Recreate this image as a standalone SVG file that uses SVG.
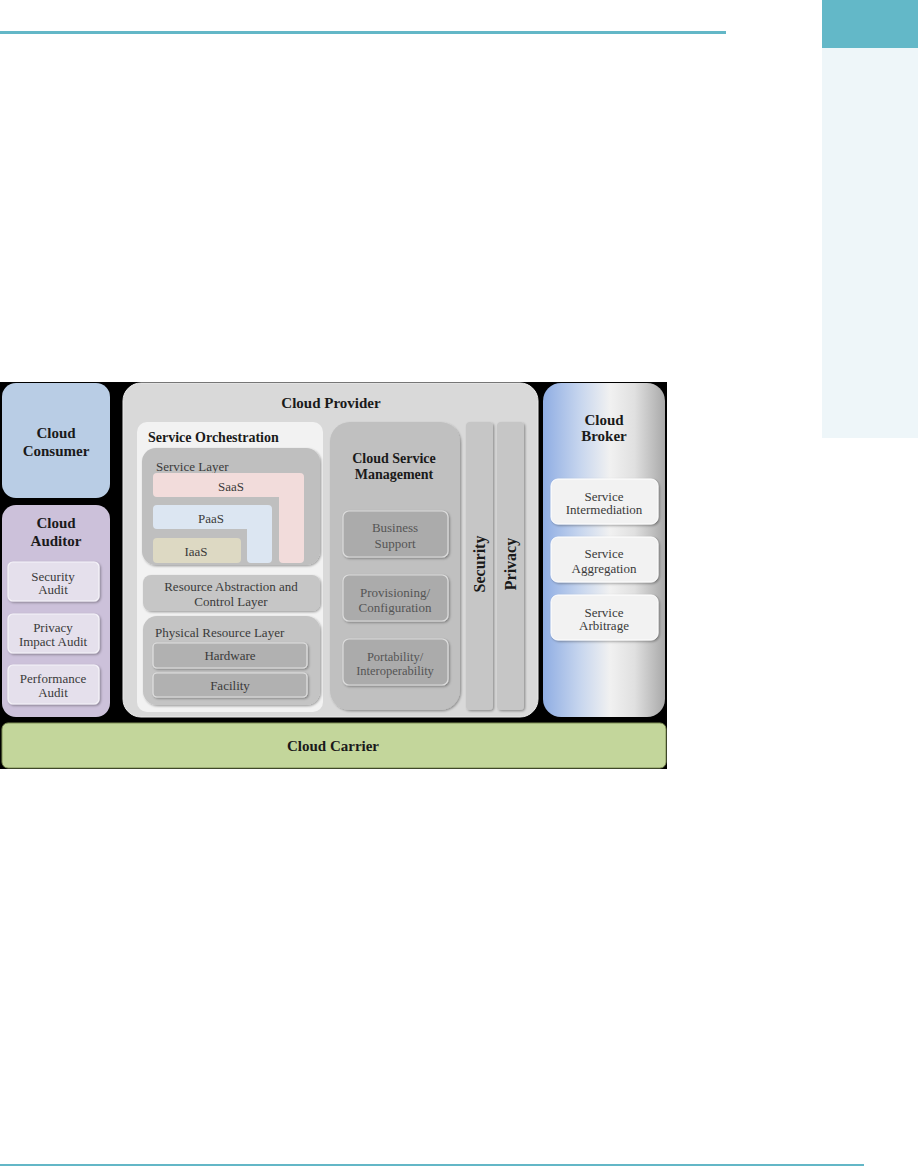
<svg xmlns="http://www.w3.org/2000/svg" width="918" height="1166" viewBox="0 0 918 1166">
<defs>
  <linearGradient id="brokerGrad" x1="0" y1="0" x2="1" y2="0">
    <stop offset="0" stop-color="#8fade3"/>
    <stop offset="0.3" stop-color="#c6d5ee"/>
    <stop offset="0.55" stop-color="#f1f1f1"/>
    <stop offset="0.75" stop-color="#e0e0e0"/>
    <stop offset="1" stop-color="#a9a9a9"/>
  </linearGradient>
  <filter id="sh" x="-10%" y="-10%" width="130%" height="140%">
    <feDropShadow dx="1.2" dy="1.2" stdDeviation="0.8" flood-color="#000" flood-opacity="0.35"/>
  </filter>
  <style>
    .title { font-family: "Liberation Serif", "Times New Roman", serif; font-weight: bold; font-size: 15px; fill: #1a1a1a; text-anchor: middle; }
    .sub { font-family: "Liberation Serif", "Times New Roman", serif; font-weight: bold; font-size: 14px; fill: #1a1a1a; }
    .lbl { font-family: "Liberation Serif", "Times New Roman", serif; font-size: 13px; fill: #3a3a3a; text-anchor: middle; }
    .lbl2 { font-family: "Liberation Serif", "Times New Roman", serif; font-size: 13px; fill: #555555; text-anchor: middle; }
    .lblL { font-family: "Liberation Serif", "Times New Roman", serif; font-size: 13px; fill: #3a3a3a; }
    .rot { font-family: "Liberation Serif", "Times New Roman", serif; font-weight: bold; font-size: 16px; fill: #1a1a1a; text-anchor: middle; dominant-baseline: central; }
    .audit { fill: #e5e0ec; stroke: #f6f4f9; stroke-width: 1.2; }
    .gbox { fill: #ababab; stroke: #dcdcdc; stroke-width: 1.2; }
    .hbox { fill: #b1b1b1; stroke: #e2e2e2; stroke-width: 1.2; }
    .bbox { fill: #f2f2f2; stroke: #ffffff; stroke-width: 1; }
  </style>
</defs>

<!-- page decorations -->
<rect x="0" y="31" width="726" height="3" fill="#63b7c7"/>
<rect x="822" y="0" width="96" height="48" fill="#63b8c8"/>
<rect x="822" y="48" width="96" height="390" fill="#eef6f9"/>
<rect x="0" y="1164" width="864" height="2" fill="#63b7c7"/>

<!-- diagram background -->
<rect x="0" y="382" width="667" height="387" fill="#000000"/>

<g id="cloud-consumer">
  <rect x="2" y="383" width="108" height="115" rx="14" fill="#b9cde5"/>
  <text class="title" x="56" y="438">Cloud</text>
  <text class="title" x="56" y="456">Consumer</text>
</g>

<g id="cloud-auditor">
  <rect x="2" y="505" width="108" height="212" rx="14" fill="#ccc1da"/>
  <text class="title" x="56" y="528">Cloud</text>
  <text class="title" x="56" y="546">Auditor</text>
  <g id="security-audit">
    <rect class="audit" x="8" y="562" width="91" height="39" rx="5" filter="url(#sh)"/>
    <text class="lbl" x="53" y="580.5">Security</text>
    <text class="lbl" x="53" y="593.5">Audit</text>
  </g>
  <g id="privacy-impact-audit">
    <rect class="audit" x="8" y="614" width="91" height="39" rx="5" filter="url(#sh)"/>
    <text class="lbl" x="53" y="631.5">Privacy</text>
    <text class="lbl" x="53" y="645.5">Impact Audit</text>
  </g>
  <g id="performance-audit">
    <rect class="audit" x="8" y="665" width="91" height="39" rx="5" filter="url(#sh)"/>
    <text class="lbl" x="53" y="682.5">Performance</text>
    <text class="lbl" x="53" y="696.5">Audit</text>
  </g>
</g>

<g id="cloud-provider">
  <rect x="123" y="383" width="415" height="334" rx="18" fill="#d9d9d9" stroke="#ececec" stroke-width="1"/>
  <text class="title" x="331" y="408">Cloud Provider</text>

  <g id="service-orchestration">
    <rect x="137" y="422" width="186" height="290" rx="10" fill="#f2f2f2"/>
    <text class="sub" x="148" y="442">Service Orchestration</text>

    <g id="service-layer">
      <rect x="142" y="448" width="178" height="117" rx="14" fill="#bfbfbf" filter="url(#sh)"/>
      <text class="lblL" x="156" y="471">Service Layer</text>
      <g id="saas">
        <path d="M157,473 H300 Q304,473 304,477 V559 Q304,563 300,563 H283 Q279,563 279,559 V497 H157 Q153,497 153,493 V477 Q153,473 157,473 Z" fill="#f2dcdb"/>
        <text class="lbl" x="231" y="490.5">SaaS</text>
      </g>
      <g id="paas">
        <path d="M157,505 H268 Q272,505 272,509 V559 Q272,563 268,563 H251 Q247,563 247,559 V529 H157 Q153,529 153,525 V509 Q153,505 157,505 Z" fill="#dce6f2"/>
        <text class="lbl" x="211" y="522.5">PaaS</text>
      </g>
      <g id="iaas">
        <rect x="153" y="538" width="88" height="25" rx="4" fill="#ddd9c3"/>
        <text class="lbl" x="196" y="555.5">IaaS</text>
      </g>
    </g>

    <g id="resource-abstraction">
      <rect x="143" y="575" width="177" height="36" rx="8" fill="#c6c6c6" filter="url(#sh)"/>
      <text class="lbl" x="231" y="590.5">Resource Abstraction and</text>
      <text class="lbl" x="231" y="605.5">Control Layer</text>
    </g>

    <g id="physical-resource-layer">
      <rect x="143" y="616" width="177" height="89" rx="14" fill="#c4c4c4" filter="url(#sh)"/>
      <text class="lblL" x="155" y="636.5">Physical Resource Layer</text>
      <g id="hardware">
        <rect class="hbox" x="153" y="643" width="154" height="25" rx="4" filter="url(#sh)"/>
        <text class="lbl" x="230" y="659.5">Hardware</text>
      </g>
      <g id="facility">
        <rect class="hbox" x="153" y="673" width="154" height="24" rx="4" filter="url(#sh)"/>
        <text class="lbl" x="230" y="689.5">Facility</text>
      </g>
    </g>
  </g>

  <g id="cloud-service-management">
    <rect x="330" y="422" width="130" height="288" rx="20" fill="#c0c0c0" filter="url(#sh)"/>
    <text class="title" style="font-size:14px" x="394" y="463">Cloud Service</text>
    <text class="title" style="font-size:14px" x="394" y="479">Management</text>
    <g id="business-support">
      <rect class="gbox" x="343" y="511" width="105" height="46" rx="6" filter="url(#sh)"/>
      <text class="lbl2" x="395" y="531.5">Business</text>
      <text class="lbl2" x="395" y="547.5">Support</text>
    </g>
    <g id="provisioning">
      <rect class="gbox" x="343" y="575" width="105" height="46" rx="6" filter="url(#sh)"/>
      <text class="lbl2" x="395" y="596.5">Provisioning/</text>
      <text class="lbl2" x="395" y="611.5">Configuration</text>
    </g>
    <g id="portability">
      <rect class="gbox" x="343" y="639" width="105" height="46" rx="6" filter="url(#sh)"/>
      <text class="lbl2" style="font-size:12.5px" x="395" y="661">Portability/</text>
      <text class="lbl2" style="font-size:12.5px" x="395" y="674.5">Interoperability</text>
    </g>
  </g>

  <g id="security">
    <rect x="466" y="422" width="27" height="288" rx="4" fill="#c6c6c6" filter="url(#sh)"/>
    <text class="rot" transform="translate(479.5,564) rotate(-90)">Security</text>
  </g>
  <g id="privacy">
    <rect x="497" y="422" width="27" height="288" rx="4" fill="#c6c6c6" filter="url(#sh)"/>
    <text class="rot" transform="translate(510.5,564) rotate(-90)">Privacy</text>
  </g>
</g>

<g id="cloud-broker">
  <rect x="543" y="383" width="122" height="334" rx="18" fill="url(#brokerGrad)"/>
  <text class="title" x="604" y="425">Cloud</text>
  <text class="title" x="604" y="441">Broker</text>
  <g id="service-intermediation">
    <rect class="bbox" x="551" y="479" width="107" height="45" rx="7" filter="url(#sh)"/>
    <text class="lbl" x="604" y="501">Service</text>
    <text class="lbl" x="604" y="514">Intermediation</text>
  </g>
  <g id="service-aggregation">
    <rect class="bbox" x="551" y="537" width="107" height="45" rx="7" filter="url(#sh)"/>
    <text class="lbl" x="604" y="557.5">Service</text>
    <text class="lbl" x="604" y="572.5">Aggregation</text>
  </g>
  <g id="service-arbitrage">
    <rect class="bbox" x="551" y="595" width="107" height="45" rx="7" filter="url(#sh)"/>
    <text class="lbl" x="604" y="616.5">Service</text>
    <text class="lbl" x="604" y="629.5">Arbitrage</text>
  </g>
</g>

<g id="cloud-carrier">
  <rect x="2" y="723" width="664" height="45" rx="6" fill="#c3d69b" stroke="#7f8f55" stroke-width="1"/>
  <text class="title" x="333" y="751">Cloud Carrier</text>
</g>

<g id="connectors"/>
</svg>
